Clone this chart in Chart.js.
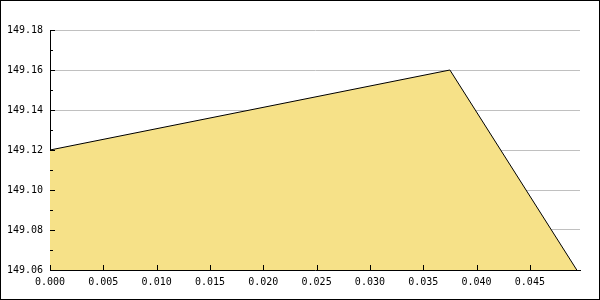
<!DOCTYPE html>
<html>
<head>
<meta charset="utf-8">
<script src="https://cdn.jsdelivr.net/npm/chart.js@4/dist/chart.umd.min.js"></script>
<style>
  html, body { margin: 0; padding: 0; background: #fff; }
  #wrap { width: 600px; height: 300px; box-sizing: border-box; border: 1px solid #000; }
  #c { display: block; }
</style>
</head>
<body>
<div id="wrap"><canvas id="c" width="598" height="298"></canvas></div>
<script>
const xValues = [0, 0.0375, 0.0494];
const yValues = [149.12, 149.16, 149.06];
const xRange = [0, 0.0497];
const yRange = [149.06, 149.18];

const font = { family: 'DejaVu Sans Mono', size: 10 };

// inward tick marks, like the original
const innerTicks = {
  id: 'innerTicks',
  afterDraw(chart) {
    const ctx = chart.ctx;
    const xs = chart.scales.x, ys = chart.scales.y;
    const a = chart.chartArea;
    ctx.save();
    ctx.strokeStyle = '#000';
    ctx.lineWidth = 1;
    ctx.beginPath();
    ys.ticks.forEach((t, i) => {
      const y = Math.round(ys.getPixelForValue(t.value)) + 0.5;
      const len = i % 2 === 0 ? 5 : 3;
      ctx.moveTo(a.left, y);
      ctx.lineTo(a.left + len, y);
    });
    xs.ticks.forEach(t => {
      const x = Math.round(xs.getPixelForValue(t.value)) + 0.5;
      ctx.moveTo(x, a.bottom);
      ctx.lineTo(x, a.bottom - 5);
    });
    ctx.stroke();
    ctx.restore();
  }
};

new Chart(document.getElementById('c'), {
  type: 'line',
  data: {
    datasets: [{
      data: xValues.map((x, i) => ({ x: x, y: yValues[i] })),
      borderColor: '#000',
      borderWidth: 1,
      backgroundColor: '#f6e188',
      fill: 'start',
      pointRadius: 0,
      tension: 0
    }]
  },
  options: {
    responsive: false,
    animation: false,
    layout: { padding: { top: 29, right: 19, left: 0, bottom: 0 } },
    plugins: { legend: { display: false }, tooltip: { enabled: false } },
    scales: {
      x: {
        type: 'linear',
        min: xRange[0],
        max: xRange[1],
        grid: { display: false, drawTicks: false },
        border: { display: true, color: '#000', width: 1 },
        ticks: {
          stepSize: 0.005,
          includeBounds: false,
          maxRotation: 0,
          autoSkip: false,
          padding: 6,
          color: '#000',
          font: font,
          callback: v => v.toFixed(3)
        },
        afterFit: s => { s.height = 29; }
      },
      y: {
        min: yRange[0],
        max: yRange[1],
        grid: {
          drawTicks: false,
          color: ctx => (ctx.index % 2 === 0 ? '#c0c0c0' : 'rgba(0,0,0,0)')
        },
        border: { display: true, color: '#000', width: 1 },
        ticks: {
          stepSize: 0.01,
          autoSkip: false,
          padding: 7,
          color: '#000',
          font: font,
          callback: (v, i) => (i % 2 === 0 ? v.toFixed(2) : '')
        },
        afterFit: s => { s.width = 49; }
      }
    }
  },
  plugins: [innerTicks]
});
</script>
</body>
</html>
